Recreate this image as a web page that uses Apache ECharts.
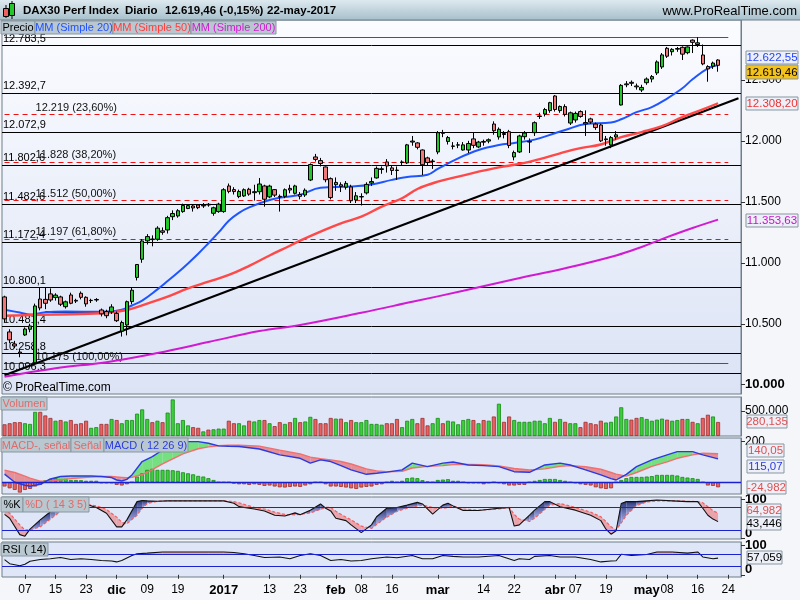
<!DOCTYPE html>
<html><head><meta charset="utf-8">
<script src="https://cdn.jsdelivr.net/npm/echarts@6/dist/echarts.min.js"></script>
<style>html,body{margin:0;padding:0;background:#f3f5f9}#c{width:800px;height:600px}</style>
</head><body><div id="c"></div>
<script>
// ---------- DATA ----------
const tradingDays = {
  '2016-11': [1,2,3,4,7,8,9,10,11,14,15,16,17,18,21,22,23,24,25,28,29,30],
  '2016-12': [1,2,5,6,7,8,9,12,13,14,15,16,19,20,21,22,23,27,28,29,30],
  '2017-01': [2,3,4,5,6,9,10,11,12,13,16,17,18,19,20,23,24,25,26,27,30,31],
  '2017-02': [1,2,3,6,7,8,9,10,13,14,15,16,17,20,21,22,23,24,27,28],
  '2017-03': [1,2,3,6,7,8,9,10,13,14,15,16,17,20,21,22,23,24,27,28,29,30,31],
  '2017-04': [3,4,5,6,7,10,11,12,13,18,19,20,21,24,25,26,27,28],
  '2017-05': [2,3,4,5,8,9,10,11,12,15,16,17,18,19,22,23,24,25,26]
};
// [open, close, low, high]
const ohlc = [
[10720,10540,10510,10730],[10433,10368,10340,10455],[10334,10318,10300,10360],[10268,10259,10225,10290],[10408,10457,10400,10470],
[10455,10482,10430,10500],[10180,10646,10175,10665],[10703,10630,10610,10800],[10700,10668,10620,10795],[10745,10695,10680,10790],
[10715,10735,10690,10750],[10720,10660,10645,10730],[10640,10680,10625,10690],[10736,10668,10660,10755],[10692,10686,10670,10705],
[10750,10717,10700,10765],[10717,10663,10640,10725],[10690,10692,10670,10705],[10695,10699,10680,10710],[10613,10581,10560,10625],
[10600,10566,10545,10615],[10597,10638,10580,10660],[10585,10525,10515,10600],[10440,10510,10395,10525],[10490,10681,10405,10690],
[10682,10775,10660,10800],[10880,10986,10855,10990],[11029,11179,11000,11195],[11180,11215,11150,11235],[11195,11190,11135,11225],
[11193,11284,11180,11300],[11262,11250,11230,11290],[11269,11370,11240,11385],[11378,11404,11350,11430],[11384,11427,11370,11440],
[11420,11470,11410,11485],[11445,11469,11440,11482],[11466,11450,11420,11478],[11474,11452,11440,11482],[11466,11472,11450,11490],
[11480,11474,11460,11490],[11406,11451,11386,11460],[11420,11481,11410,11492],[11420,11599,11410,11612],[11630,11585,11570,11650],
[11600,11584,11560,11620],[11543,11585,11530,11600],[11548,11599,11540,11610],[11603,11563,11550,11615],[11575,11583,11510,11640],
[11583,11646,11560,11695],[11630,11521,11460,11640],[11540,11629,11530,11640],[11600,11555,11540,11605],[11545,11540,11420,11560],
[11545,11599,11530,11610],[11610,11597,11570,11640],[11570,11630,11560,11640],[11560,11545,11520,11580],[11556,11595,11540,11610],
[11679,11806,11670,11815],[11868,11848,11830,11893],[11838,11814,11790,11860],[11786,11681,11660,11790],[11690,11535,11520,11700],
[11640,11659,11590,11700],[11640,11627,11580,11660],[11620,11651,11600,11670],[11622,11509,11490,11640],[11515,11549,11490,11580],
[11540,11543,11470,11570],[11573,11643,11560,11660],[11654,11666,11630,11700],[11696,11774,11690,11790],[11765,11771,11730,11790],
[11827,11794,11740,11850],[11778,11757,11720,11800],[11760,11757,11680,11790],[11822,11827,11800,11840],[11819,11967,11810,11975],
[11990,11998,11960,12040],[11983,11947,11930,11990],[11925,11804,11720,11930],[11860,11822,11800,11870],[11830,11834,11770,11850],
[11909,12067,11890,12080],[12065,12062,12030,12090],[11995,12027,11970,12040],[11955,11958,11930,11990],[11965,11967,11940,11990],
[11925,11967,11920,11990],[11925,11978,11900,12000],[12016,11963,11940,12070],[11950,11990,11940,12000],[11995,11989,11960,12010],
[11998,12009,11980,12020],[12138,12083,12050,12160],[12032,12095,12010,12110],[12060,12052,12020,12080],[12075,11962,11940,12090],
[11868,11904,11840,11920],[11909,12040,11900,12050],[12034,12064,12010,12080],[11990,11996,11900,12020],[12067,12149,12040,12160],
[12200,12204,12180,12230],[12220,12257,12200,12270],[12248,12313,12230,12320],[12368,12257,12240,12375],[12248,12282,12230,12290],
[12281,12217,12200,12300],[12146,12230,12130,12240],[12171,12225,12150,12240],[12240,12200,12190,12250],[12150,12139,12040,12250],
[12180,12154,12140,12190],[12138,12109,12090,12150],[12130,12000,11990,12140],[12010,12016,11960,12040],[11966,12027,11940,12040],
[12032,12049,12010,12080],[12294,12455,12290,12465],[12460,12467,12440,12490],[12480,12472,12450,12495],[12450,12443,12420,12470],
[12417,12438,12400,12460],[12477,12507,12460,12520],[12507,12527,12480,12540],[12557,12647,12540,12660],[12606,12705,12590,12720],
[12759,12694,12680,12770],[12731,12750,12700,12760],[12752,12757,12730,12770],[12767,12711,12663,12775],[12723,12770,12710,12775],
[12826,12808,12720,12832],[12790,12804,12770,12850],[12704,12631,12620,12790],[12609,12590,12485,12620],[12612,12638,12590,12650],
[12663,12619.46,12567,12669]
];
// volume, thousands
const volumeK = [234,255,276,276,255,241,482,482,411,361,305,319,290,319,241,255,305,163,177,241,
241,340,319,255,319,319,447,532,340,276,305,276,468,731,255,319,212,177,163,92,
127,134,148,148,305,255,255,212,305,290,319,319,255,198,276,241,276,361,276,290,
383,340,255,255,361,347,347,276,319,276,276,319,241,241,226,255,255,340,
177,305,340,255,361,212,255,361,255,305,290,234,319,340,319,255,319,305,390,645,
283,390,319,283,283,283,305,305,255,361,283,340,283,255,255,177,283,255,234,305,
269,283,390,574,340,326,361,376,340,305,326,347,326,305,319,340,340,283,255,361,
425,390,280.135];
// moving averages: [day index, value]
const ma20Pts = [[0,10615],[3,10592],[5,10575],[8,10595],[12,10600],[19,10598],[21,10602],[23,10615],[25,10650],[27,10690],[30,10782],[32,10850],[34,10920],[36,10995],[38,11074],[40,11160],[42,11249],[44,11345],[46,11410],[48,11455],[52,11515],[55,11540],[58,11558],[62,11615],[68,11625],[72,11642],[76,11680],[79,11703],[83,11722],[85,11770],[89,11857],[93,11925],[97,11966],[100,11983],[104,12010],[108,12062],[110,12089],[114,12138],[119,12150],[121,12177],[124,12235],[127,12277],[130,12347],[133,12431],[135,12505],[138,12595],[140,12622.55]];
const ma50Pts = [[0,10566],[10,10576],[19,10586],[24,10613],[28,10665],[32,10722],[36,10790],[40,10845],[44,10900],[48,10975],[52,11060],[56,11140],[58,11182],[62,11256],[66,11324],[70,11378],[74,11460],[78,11529],[81,11605],[85,11665],[89,11706],[93,11747],[97,11783],[101,11810],[105,11850],[109,11898],[113,11940],[117,11970],[121,12030],[125,12072],[129,12120],[133,12195],[137,12258],[140,12308.2]];
const ma200Pts = [[0,10065],[10,10135],[20,10185],[30,10260],[40,10350],[50,10440],[58,10490],[70,10590],[80,10680],[90,10770],[100,10865],[110,10955],[120,11060],[125,11130],[130,11210],[135,11285],[140,11353.63]];
// drawn lines
const levelLines = [12783.5,12392.7,12072.9,11802.6,11482.6,11172.4,10800.1,10481.4,10258.8,10096.3];
const fibTop = 12850.4;
const fibLevels = [12219,11828,11512,11197,10175];
const fibPcts = ['23,60%','38,20%','50,00%','61,80%','100,00%'];
const trendLine = [[0,10077],[144,12349]];
const supportSeg = [[8,10595],[19,10595]];
// MACD (12 26 9)
const macdIdx = [0,2,4,5,7,9,11,13,15,17,19,21,22,23,24,25,27,29,31,33,35,38,40,42,44,46,50,54,58,60,62,64,66,68,71,73,75,78,80,83,86,88,91,94,97,100,103,106,109,111,114,117,119,120,122,124,127,130,132,135,137,140];
const macdLine = [40,0,-15,-20,-10,16,28,31,31,31,28,23,11,6,14,36,102,126,159,184,200,200,192,179,177,176,164,135,118,94,110,102,82,61,39,44,50,61,94,77,94,100,85,82,77,52,49,85,94,85,61,36,18,11,39,77,110,135,151,151,135,115.07];
const signalLine = [60,48,30,20,5,6,12,18,22,25,28,28,26,24,22,24,38,62,90,115,140,165,174,180,182,182,178,158,140,124,116,110,102,90,66,56,52,54,70,78,82,87,88,86,80,68,60,66,78,82,76,64,48,40,30,48,78,100,118,135,143,140.05];
const macdHist = [-21,-30,-38,-51,-38,-33,-21,-13,10,16,20,16,16,11,11,10,7,7,7,-5,
-5,-5,-13,-16,-10,0,28,44,61,66,61,61,61,59,56,49,44,39,31,28,
20,11,0,0,0,-7,-10,-10,-13,-10,-13,-18,-16,-21,-25,-26,-23,-21,-23,-16,
-10,0,0,-10,-21,-21,-23,-26,-30,-33,-26,-23,-21,-13,-10,0,7,0,
7,20,23,20,10,3,0,11,13,15,7,7,0,-5,-5,-5,-10,-5,0,-5,
-10,-16,-16,-13,-13,0,7,11,16,16,16,11,7,0,-5,-10,-13,-16,-25,-30,
-33,-30,0,11,20,26,26,26,28,30,36,36,36,36,33,26,23,20,16,0,
-16,-18,-24.982];
// Stochastic (14 3 5)
const stochIdx = [0,1,3,4,5,7,9,10,12,14,16,18,20,22,23,24,26,27,28,30,32,36,40,43,45,46,48,49,51,53,55,57,58,60,62,63,64,65,67,68,70,72,73,75,77,79,81,82,84,86,87,88,90,93,97,99,100,101,103,104,106,107,109,112,115,117,118,119,120,121,122,124,126,128,131,134,136,137,138,139,140];
const stochK = [62,52,10,6,24,48,69,80,88,90,88,80,65,30,30,48,95,98,97,96,97,97,97,97,91,82,78,76,71,60,58,66,61,73,89,78,71,52,46,35,15,35,56,78,80,86,93,89,63,86,91,84,72,72,78,80,32,35,60,73,95,95,82,73,60,46,24,11,20,90,95,95,97,99,97,95,95,78,60,50,43.446];
const stochD = [77,65,35,22,22,30,50,60,80,86,88,84,75,55,42,38,60,78,90,96,97,97,97,97,95,92,84,80,76,68,62,61,62,66,75,80,80,70,55,48,32,26,36,55,70,78,84,86,80,78,80,84,76,73,76,80,62,50,44,52,75,86,90,80,68,56,44,30,22,40,60,85,94,97,97,96,95,92,82,72,64.982];
// RSI (14)
const rsiPts = [[0,52],[1,38],[3,31],[4,36],[5,46],[7,52],[9,55],[11,59],[13,52],[15,55],[17,52],[19,49],[21,47],[22,44],[23,49],[25,66],[26,72],[28,74],[31,78],[35,78],[40,78],[43,78],[45,76],[47,72],[49,66],[51,59],[54,61],[56,55],[58,66],[60,72],[62,66],[64,49],[66,52],[68,47],[70,49],[72,55],[75,61],[77,58],[78,61],[80,66],[82,55],[84,55],[86,66],[88,63],[90,61],[93,61],[97,66],[100,49],[101,55],[103,52],[104,63],[107,66],[109,61],[112,61],[115,52],[117,44],[119,47],[120,48],[121,70],[123,66],[126,69.5],[128,78],[131,78],[134,74],[136,78],[137,61],[139,55],[140,57.059]];
const rsiUpper = 70, rsiLower = 30, stochUpper = 80, stochLower = 20;
// axis labels
const priceTicks = [10000,10500,11000,11500,12000,12500];
const tickLabels = [['2016-11-07','07'],['2016-11-15','15'],['2016-11-23','23'],['2016-12-01','dic'],['2016-12-09','09'],['2016-12-19','19'],['2017-01-02','2017'],['2017-01-13','13'],['2017-01-23','23'],['2017-02-01','feb'],['2017-02-08','08'],['2017-02-16','16'],['2017-03-01','mar'],['2017-03-14','14'],['2017-03-22','22'],['2017-04-03','abr'],['2017-04-07','07'],['2017-04-19','19'],['2017-05-02','may'],['2017-05-08','08'],['2017-05-16','16'],['2017-05-24','24']];
const boldLabels = ['dic','2017','feb','mar','abr','may'];

// ---------- BUILD ----------
const dates = [];
Object.keys(tradingDays).forEach(m => tradingDays[m].forEach(d => dates.push(m + '-' + String(d).padStart(2,'0'))));
const labelMap = new Map(tickLabels);
const FONT = '"Liberation Sans", Arial, sans-serif';
const fmtInt = v => String(Math.round(v)).replace(/\B(?=(\d{3})+(?!\d))/g, '.');
const fmtDec = (v, d) => { const p = Number(v).toFixed(d).split('.'); return fmtInt(+p[0]) + (p[1] ? ',' + p[1] : ''); };
const last = a => a[a.length - 1];

const UP = '#22c82a', DOWN = '#f07878';
const G = echarts.graphic;

function fillRender(posColor, negColor) {
  return function (params, api) {
    const x0 = api.value(0), a0 = api.value(1), b0 = api.value(2), x1 = api.value(3), a1 = api.value(4), b1 = api.value(5);
    const d0 = a0 - b0, d1 = a1 - b1;
    const P = (x, y) => api.coord([x, y]);
    const col = d => d >= 0 ? posColor : negColor;
    const ch = [];
    if (d0 * d1 < 0) {
      const t = d0 / (d0 - d1);
      const xm = x0 + t * (x1 - x0), ym = a0 + t * (a1 - a0);
      ch.push({type:'polygon', shape:{points:[P(x0,a0),P(xm,ym),P(x0,b0)]}, style:{fill:col(d0)}});
      ch.push({type:'polygon', shape:{points:[P(xm,ym),P(x1,a1),P(x1,b1)]}, style:{fill:col(d1)}});
    } else {
      ch.push({type:'polygon', shape:{points:[P(x0,a0),P(x1,a1),P(x1,b1),P(x0,b0)]}, style:{fill:col(d0 + d1)}});
    }
    return {type:'group', children:ch};
  };
}
function segs(idx, a, b) {
  const out = [];
  for (let i = 0; i < idx.length - 1; i++) out.push([idx[i], a[i], b[i], idx[i+1], a[i+1], b[i+1]]);
  return out;
}
const pairs = (idx, vals) => idx.map((x, i) => [x, vals[i]]);
const rsiIdx = rsiPts.map(p => p[0]), rsiVal = rsiPts.map(p => p[1]), rsiRef = rsiPts.map(() => rsiUpper);

const panelBg = '#dfe6f7';
const border = '#6f7f8a';
const grids = [
  {left:2, right:59, top:20, height:374, show:true, borderColor:border, borderWidth:1,
   backgroundColor: new G.LinearGradient(0,0,0,1,[{offset:0,color:'#fbfcff'},{offset:1,color:'#dbe3f5'}])},
  {left:2, right:59, top:397, height:39, show:true, borderColor:border, borderWidth:1, backgroundColor:panelBg},
  {left:2, right:59, top:438, height:56, show:true, borderColor:border, borderWidth:1, backgroundColor:panelBg},
  {left:2, right:59, top:497, height:42, show:true, borderColor:border, borderWidth:1, backgroundColor:panelBg},
  {left:2, right:59, top:542, height:35, show:true, borderColor:border, borderWidth:1, backgroundColor:panelBg}
];
const xAxes = grids.map((g, i) => ({
  type:'category', gridIndex:i, data:dates, boundaryGap:true,
  axisLine:{show:false}, splitLine:{show:false},
  axisTick: i === 4 ? {show:true, alignWithLabel:true, length:4, interval:(idx, v) => labelMap.has(v), lineStyle:{color:'#333'}} : {show:false},
  axisLabel: i === 4 ? {show:true, interval:(idx, v) => labelMap.has(v), margin:7, color:'#000', fontSize:12, fontFamily:FONT,
    formatter: v => { const t = labelMap.get(v) || ''; return boldLabels.includes(t) ? '{b|' + t + '}' : t; },
    rich:{b:{fontWeight:'bold', fontSize:13, fontFamily:FONT, color:'#000'}}} : {show:false}
}));
function yAx(i, min, max, ticks, fmt) {
  return {
    type:'value', gridIndex:i, position:'right', min, max, splitLine:{show:false},
    axisLine:{show:true, lineStyle:{color:border}},
    axisTick:{show:true, customValues:ticks, length:4, lineStyle:{color:'#333'}},
    axisLabel:{show:true, customValues:ticks, formatter:fmt, margin:4, color:'#000', fontSize:12, fontFamily:FONT,
      rich:{b:{fontWeight:'bold', fontSize:13, fontFamily:FONT, color:'#000'},
            bz:{fontWeight:'bold', fontSize:13, fontFamily:FONT, color:'#000', padding:[0,0,11,0]}}}
  };
}
const yAxes = [
  yAx(0, 9924, 12991, priceTicks, v => v === 10000 ? '{b|' + fmtInt(v) + '}' : fmtInt(v)),
  yAx(1, 0, 780, [500], v => fmtInt(v * 1000)),
  yAx(2, -58, 218, [200], v => String(v)),
  yAx(3, -1.3, 106.9, [0,100], v => v === 0 ? '{bz|0}' : '{b|100}'),
  yAx(4, -7.5, 112, [0,100], v => v === 0 ? '{bz|0}' : '{b|100}')
];

// mark lines on price
const hl = [];
levelLines.forEach(v => hl.push({yAxis:v, lineStyle:{color:'#000', width:1, type:'solid'},
  label:{show:true, position:'insideStartTop', formatter:fmtDec(v,1), color:'#000', fontSize:11, fontFamily:FONT, distance:[1,1]}}));
hl.push([{coord:[dates[0], fibTop], lineStyle:{color:'#ee1111', width:1.2, type:'solid'}, label:{show:false}}, {coord:[dates[142], fibTop]}]);
fibLevels.forEach((v, i) => hl.push([
  {coord:[dates[0], v], lineStyle:{color:'#ee1111', width:1.2, type: i === fibLevels.length - 1 ? 'solid' : [5,4]},
   label:{show:true, position:'insideStartTop', formatter: fmtInt(v) + ' (' + fibPcts[i] + ')', color:'#111', fontSize:11, fontFamily:FONT, distance:[31,1]}},
  {coord:[dates[142], v]}]));
hl.push([{coord:[dates[trendLine[0][0]], trendLine[0][1]], lineStyle:{color:'#000', width:2.2, type:'solid'}, label:{show:false}},
         {coord:[dates[trendLine[1][0]], trendLine[1][1]]}]);
hl.push([{coord:[dates[supportSeg[0][0]], supportSeg[0][1]], lineStyle:{color:'#111', width:2, type:'solid'}, label:{show:false}},
         {coord:[dates[supportSeg[1][0]], supportSeg[1][1]]}]);

const series = [
  {type:'candlestick', xAxisIndex:0, yAxisIndex:0, data:ohlc, barWidth:4, z:5,
   itemStyle:{color:UP, color0:DOWN, borderColor:'#000', borderColor0:'#000', borderWidth:1},
   markLine:{silent:true, symbol:['none','none'], animation:false, data:hl, z:3}},
  {type:'line', xAxisIndex:0, yAxisIndex:0, data:ma20Pts, smooth:0.4, showSymbol:false, lineStyle:{color:'#1f55ff', width:2}, z:4},
  {type:'line', xAxisIndex:0, yAxisIndex:0, data:ma50Pts, smooth:0.4, showSymbol:false, lineStyle:{color:'#ff4848', width:2.4}, z:4},
  {type:'line', xAxisIndex:0, yAxisIndex:0, data:ma200Pts, smooth:0.4, showSymbol:false, lineStyle:{color:'#d21ad2', width:2}, z:4},
  {type:'bar', xAxisIndex:1, yAxisIndex:1, barWidth:4,
   data:volumeK.map((v, i) => ({value:v, itemStyle:{color: ohlc[i][1] >= ohlc[i][0] ? '#3ccf3c' : '#e86262',
     borderColor: ohlc[i][1] >= ohlc[i][0] ? '#158a15' : '#9a2e2e', borderWidth:0.8}}))},
  {type:'custom', xAxisIndex:2, yAxisIndex:2, renderItem:fillRender('#74e07f','#e49098'), data:segs(macdIdx, macdLine, signalLine),
   encode:{x:[0,3], y:[1,2,4,5]}, clip:true, silent:true, z:1},
  {type:'bar', xAxisIndex:2, yAxisIndex:2, barWidth:4, z:2,
   data:macdHist.map(v => ({value:v, itemStyle:{color: v >= 0 ? '#3ccf3c' : '#e86262', borderColor: v >= 0 ? '#158a15' : '#9a2e2e', borderWidth:0.8}})),
   markLine:{silent:true, symbol:['none','none'], animation:false, label:{show:false}, data:[{yAxis:0}], lineStyle:{color:'#1a22d0', width:1.3, type:'solid'}}},
  {type:'line', xAxisIndex:2, yAxisIndex:2, data:pairs(macdIdx, signalLine), showSymbol:false, lineStyle:{color:'#f07070', width:1.4}, z:3},
  {type:'line', xAxisIndex:2, yAxisIndex:2, data:pairs(macdIdx, macdLine), showSymbol:false, lineStyle:{color:'#2a3ae0', width:1.4}, z:4},
  {type:'custom', xAxisIndex:3, yAxisIndex:3, renderItem:fillRender(new G.LinearGradient(0,0,0,1,[{offset:0,color:'#27347a'},{offset:1,color:'#aab2ea'}]),'#e9a3ab'),
   data:segs(stochIdx, stochK, stochD), encode:{x:[0,3], y:[1,2,4,5]}, clip:true, silent:true, z:1},
  {type:'line', xAxisIndex:3, yAxisIndex:3, data:pairs(stochIdx, stochD), showSymbol:false, lineStyle:{color:'#f06060', width:1.2, type:[3,2]}, z:3,
   markLine:{silent:true, symbol:['none','none'], animation:false, label:{show:false}, data:[{yAxis:stochUpper},{yAxis:stochLower}], lineStyle:{color:'#1a22d0', width:1.2, type:'solid'}}},
  {type:'line', xAxisIndex:3, yAxisIndex:3, data:pairs(stochIdx, stochK), showSymbol:false, lineStyle:{color:'#111', width:1.1}, z:4},
  {type:'custom', xAxisIndex:4, yAxisIndex:4, renderItem:fillRender('#eaa4ac','rgba(0,0,0,0)'),
   data:segs(rsiIdx, rsiVal, rsiRef), encode:{x:[0,3], y:[1,2,4,5]}, clip:true, silent:true, z:1},
  {type:'line', xAxisIndex:4, yAxisIndex:4, data:rsiPts, showSymbol:false, lineStyle:{color:'#111', width:1.1}, z:4,
   markLine:{silent:true, symbol:['none','none'], animation:false, label:{show:false}, data:[{yAxis:rsiUpper},{yAxis:rsiLower}], lineStyle:{color:'#1a22d0', width:1.2, type:'solid'}}}
];

// ---------- GRAPHICS ----------
function box(x, y, w, h, text, color, fill, fontSize) {
  return {type:'group', z:100, children:[
    {type:'rect', z:100, shape:{x:x, y:y, width:w, height:h}, style:{fill:fill || '#b9c8d0', stroke:'#8797a1', lineWidth:1}},
    {type:'text', z:101, style:{x:x + w/2, y:y + h/2 + 0.5, text:text, fill:color, font:(fontSize || 11) + 'px ' + FONT, align:'center', verticalAlign:'middle'}}
  ]};
}
function tag(x, y, w, h, text, color, fill) {
  return box(x, y, w, h, text, color, fill || '#edf0f8', 11.5);
}
const lastClose = last(ohlc)[1];
const HF = 'bold 11.5px ' + FONT;
const gfx = [
  {type:'rect', z:100, shape:{x:0, y:0, width:800, height:20}, style:{fill:new G.LinearGradient(0,0,0,1,[{offset:0,color:'#dde9ef'},{offset:1,color:'#a7c0cc'}])}},
  {type:'line', z:100, shape:{x1:0, y1:20, x2:800, y2:20}, style:{stroke:border, lineWidth:1}},
  {type:'line', z:100, shape:{x1:6, y1:5, x2:6, y2:18}, style:{stroke:'#000', lineWidth:1}},
  {type:'rect', z:101, shape:{x:3.5, y:8.5, width:5, height:8}, style:{fill:'#f06060', stroke:'#000', lineWidth:1}},
  {type:'line', z:100, shape:{x1:12, y1:1, x2:12, y2:19}, style:{stroke:'#000', lineWidth:1}},
  {type:'rect', z:101, shape:{x:9.5, y:3.5, width:5, height:12}, style:{fill:'#22c82a', stroke:'#000', lineWidth:1}},
  {type:'text', z:101, style:{x:23, y:11, text:'DAX30 Perf Index', fill:'#000', font:HF, verticalAlign:'middle'}},
  {type:'text', z:101, style:{x:125, y:11, text:'Diario', fill:'#000', font:HF, verticalAlign:'middle'}},
  {type:'text', z:101, style:{x:165, y:11, text:fmtDec(lastClose,2) + ' (-0,15%)', fill:'#000', font:HF, verticalAlign:'middle'}},
  {type:'text', z:101, style:{x:267, y:11, text:'22-may-2017', fill:'#000', font:HF, verticalAlign:'middle'}},
  {type:'text', z:101, style:{x:797, y:11, text:'www.ProRealTime.com', fill:'#000', font:'13px ' + FONT, align:'right', verticalAlign:'middle'}},
  box(1, 21, 34, 13, 'Precio', '#000'),
  box(35, 21, 78, 13, 'MM (Simple 20)', '#2050ff'),
  box(113, 21, 78, 13, 'MM (Simple 50)', '#ff3c3c'),
  box(191, 21, 85, 13, 'MM (Simple 200)', '#d21ad2'),
  {type:'text', z:101, style:{x:3, y:388, text:'© ProRealTime.com', fill:'#000', font:'12px ' + FONT, verticalAlign:'middle'}},
  box(1, 397, 46, 13, 'Volumen', '#e06a6a'),
  box(1, 438, 70, 14, 'MACD-, señal', '#e06a6a'),
  box(71, 438, 33, 14, 'Señal', '#e06a6a'),
  box(104, 438, 84, 14, 'MACD ( 12 26 9)', '#2a3ae0'),
  box(1, 497, 22, 15, '%K', '#000'),
  box(23, 497, 66, 15, '%D ( 14 3 5)', '#e06a6a'),
  box(1, 543, 47, 13, 'RSI ( 14)', '#000'),
  tag(746, 51, 52, 13, fmtDec(last(ma20Pts)[1],2), '#2244ff'),
  tag(746, 65, 52, 14, fmtDec(lastClose,2), '#000', '#f4c21c'),
  tag(746, 97, 52, 13, fmtDec(last(ma50Pts)[1],2), '#ee3333'),
  tag(746, 214, 52, 13, fmtDec(last(ma200Pts)[1],2), '#cc10cc'),
  tag(747, 415, 40, 13, fmtDec(last(volumeK),3), '#e05050'),
  tag(747, 444, 37, 13, fmtDec(last(signalLine),2), '#e05050'),
  tag(747, 460, 37, 13, fmtDec(last(macdLine),2), '#2a3ae0'),
  tag(747, 481, 39, 13, fmtDec(last(macdHist),3), '#e05050'),
  tag(747, 504, 34, 13, fmtDec(last(stochD),3), '#e05050'),
  tag(747, 517, 34, 13, fmtDec(last(stochK),3), '#000'),
  tag(747, 551, 35, 13, fmtDec(last(rsiPts)[1],3), '#000')
];

const chart = echarts.init(document.getElementById('c'), null, {renderer:'canvas'});
chart.setOption({
  animation:false,
  backgroundColor:'#f4f6fa',
  grid:grids, xAxis:xAxes, yAxis:yAxes, series:series, graphic:gfx
});
</script></body></html>
